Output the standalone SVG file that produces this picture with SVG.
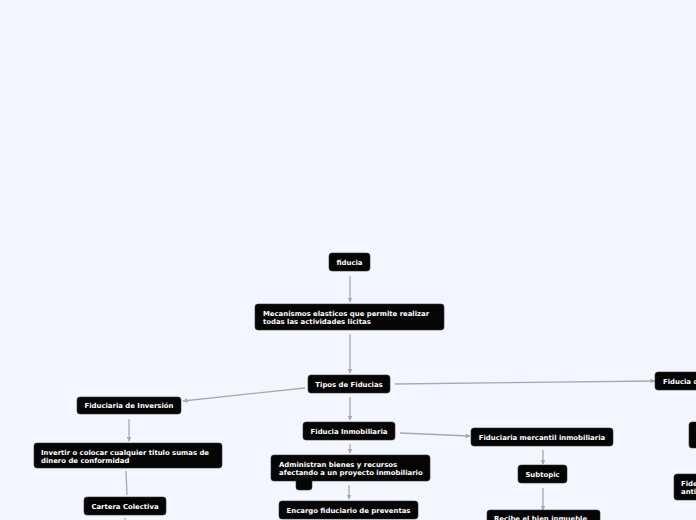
<svg xmlns="http://www.w3.org/2000/svg" width="696" height="520" viewBox="0 0 696 520">
<style>
.n{fill:#050505;stroke:#333;stroke-width:0.6}
.t{font-family:"DejaVu Sans",sans-serif;font-weight:bold;font-size:6.9px;fill:#fff}
.c{stroke:#a9a9a9;stroke-width:1.3;fill:none}
</style>
<defs>
<marker id="a" viewBox="0 0 10 10" refX="9" refY="5" markerWidth="5" markerHeight="5" orient="auto" markerUnits="userSpaceOnUse">
<path d="M0,0 L10,5 L0,10 z" fill="#a9a9a9"/>
</marker>
</defs>
<rect width="696" height="520" fill="#f3f6fe"/>
<g id="connectors">
<line class="c" x1="350" y1="276" x2="350" y2="302" marker-end="url(#a)"/>
<line class="c" x1="350" y1="334" x2="350" y2="373" marker-end="url(#a)"/>
<line class="c" x1="305" y1="388" x2="183" y2="401" marker-end="url(#a)"/>
<line class="c" x1="395" y1="384" x2="655" y2="381" marker-end="url(#a)"/>
<line class="c" x1="350" y1="397" x2="350" y2="420" marker-end="url(#a)"/>
<line class="c" x1="129" y1="419" x2="129" y2="441" marker-end="url(#a)"/>
<line class="c" x1="126" y1="471" x2="127" y2="495"/>
<line class="c" x1="125" y1="518" x2="125" y2="520"/>
<line class="c" x1="400" y1="433" x2="470" y2="436" marker-end="url(#a)"/>
<line class="c" x1="350" y1="444" x2="350" y2="453" marker-end="url(#a)"/>
<line class="c" x1="349" y1="485" x2="349" y2="499" marker-end="url(#a)"/>
<line class="c" x1="543" y1="450" x2="543" y2="464" marker-end="url(#a)"/>
<line class="c" x1="543" y1="488" x2="543" y2="510" marker-end="url(#a)"/>
</g>
<g id="fiducia"><rect class="n" x="329" y="253" width="41" height="18" rx="3"/><text class="t" x="349.5" y="264.5" text-anchor="middle">fiducia</text></g>
<g id="mecanismos"><rect class="n" x="255" y="304" width="189" height="26" rx="3"/><text class="t" x="263" y="316">Mecanismos elasticos que permite realizar</text><text class="t" x="263" y="324">todas las actividades licitas</text></g>
<g id="tipos"><rect class="n" x="308" y="375" width="82" height="18" rx="3"/><text class="t" x="349" y="386.5" text-anchor="middle">Tipos de Fiducias</text></g>
<g id="inversion"><rect class="n" x="77" y="397" width="104" height="17" rx="3"/><text class="t" x="129" y="408" text-anchor="middle">Fiduciaria de Inversión</text></g>
<g id="invertir"><rect class="n" x="34" y="443" width="188" height="25" rx="3"/><text class="t" x="41" y="455">Invertir o colocar cualquier titulo sumas de</text><text class="t" x="41" y="463">dinero de conformidad</text></g>
<g id="cartera"><rect class="n" x="84" y="497" width="82" height="18" rx="3"/><text class="t" x="125" y="508.5" text-anchor="middle">Cartera Colectiva</text></g>
<g id="inmobiliaria"><rect class="n" x="303" y="422" width="92" height="18" rx="3"/><text class="t" x="349" y="433.5" text-anchor="middle">Fiducia Inmobiliaria</text></g>
<g id="administran"><rect class="n" x="271" y="455" width="159" height="26" rx="3"/><text class="t" x="279" y="467">Administran bienes y recursos</text><text class="t" x="279" y="475">afectando a un proyecto inmobiliario</text></g>
<g id="small"><rect class="n" x="296" y="476" width="16" height="14" rx="3" stroke="#555"/></g>
<g id="encargo"><rect class="n" x="279" y="501" width="139" height="18" rx="3"/><text class="t" x="348.5" y="512.5" text-anchor="middle">Encargo fiduciario de preventas</text></g>
<g id="mercantil"><rect class="n" x="471" y="428" width="142" height="18" rx="3"/><text class="t" x="542" y="439.5" text-anchor="middle">Fiduciaria mercantil inmobiliaria</text></g>
<g id="subtopic"><rect class="n" x="518" y="465" width="49" height="18" rx="3"/><text class="t" x="542.5" y="476.5" text-anchor="middle">Subtopic</text></g>
<g id="recibe"><rect class="n" x="487" y="510" width="113" height="20" rx="3"/><text class="t" x="494" y="521">Recibe el bien inmueble</text></g>
<g id="fiduciad"><rect class="n" x="655" y="372" width="50" height="18" rx="3"/><text class="t" x="663" y="383.5">Fiducia de</text></g>
<g id="right2"><rect class="n" x="689" y="422" width="20" height="26" rx="3"/></g>
<g id="fide"><rect class="n" x="674" y="474" width="40" height="26" rx="3"/><text class="t" x="681" y="486">Fide</text><text class="t" x="681" y="494">anti</text></g>
</svg>
